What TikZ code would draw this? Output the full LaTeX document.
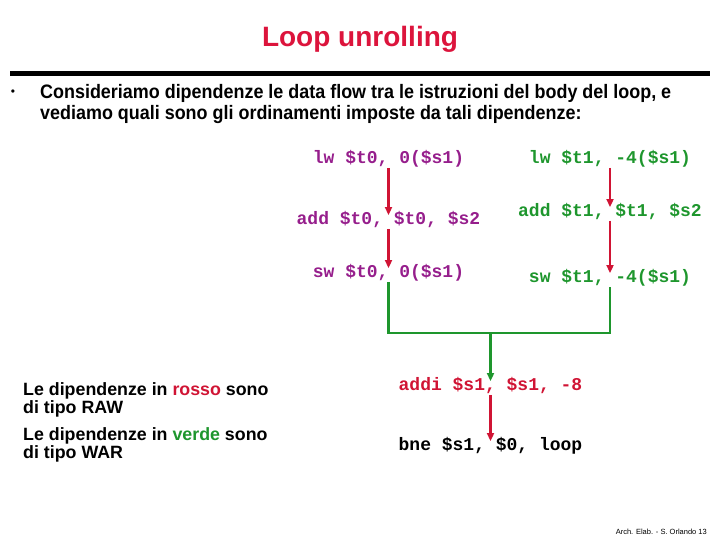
\documentclass[tikz,border=0pt]{standalone}
\usepackage{fontspec}
\setmainfont{Liberation Sans}
\setmonofont{Liberation Mono}
\newfontfamily\narrowfont[FakeStretch=0.92]{Liberation Sans}
\usepackage{xcolor}
\usepackage{tikz}
\usetikzlibrary{arrows.meta, positioning}

\definecolor{titlered}{RGB}{220,20,60}
\definecolor{rawred}{RGB}{208,20,52}
\definecolor{warpurple}{RGB}{150,30,140}
\definecolor{wargreen}{RGB}{30,150,45}

\begin{document}
\begin{tikzpicture}[x=1pt, y=-1pt, >={Triangle[length=8pt,width=7pt]},
  code/.style={font=\ttfamily\bfseries\fontsize{18}{20}\selectfont, inner sep=2pt,
    text height=0.72em, text depth=0.23em},
  rawarrow/.style={->, draw=rawred, fill=rawred, line width=2.5pt},
  wararrow/.style={draw=wargreen, line width=2.5pt},
  legend/.style={font=\bfseries\fontsize{17.8}{18.5}\selectfont, align=left, anchor=north west, inner sep=0pt}]
  \useasboundingbox (0,0) rectangle (720,540);
  % titolo e testo
  \node[font=\bfseries\fontsize{28}{30}\selectfont, text=titlered] (title) at (360,39) {Loop unrolling};
  \fill (10,71) rectangle (710,76);
  \node[font=\fontsize{12}{12}\selectfont] (bullet) at (13,93) {•};
  \node[font=\narrowfont\bfseries\fontsize{19.5}{21.5}\selectfont, align=left, anchor=north west, inner sep=0pt] (intro) at (40,84)
    {Consideriamo dipendenze le data flow tra le istruzioni del body del loop, e\\
     vediamo quali sono gli ordinamenti imposte da tali dipendenze:};
  % prima iterazione
  \node[code, text=warpurple] (lw0) at (388.5,161) {lw \$t0, 0(\$s1)};
  \node[code, text=warpurple] (add0) at (388.5,222) {add \$t0, \$t0, \$s2};
  \node[code, text=warpurple] (sw0) at (388.5,275) {sw \$t0, 0(\$s1)};
  % seconda iterazione
  \node[code, text=wargreen] (lw1) at (610,161) {lw \$t1, -4(\$s1)};
  \node[code, text=wargreen] (add1) at (610,214) {add \$t1, \$t1, \$s2};
  \node[code, text=wargreen] (sw1) at (610,280) {sw \$t1, -4(\$s1)};
  % fine loop
  \node[code, text=rawred] (addi) at (490.5,388) {addi \$s1, \$s1, -8};
  \node[code] (bne) at (490.5,448) {bne \$s1, \$0, loop};
  \coordinate (join) at (490.5,333);
  % dipendenze RAW
  \draw[rawarrow] (lw0) -- (add0);
  \draw[rawarrow] (add0) -- (sw0);
  \draw[rawarrow] (lw1) -- (add1);
  \draw[rawarrow] (add1) -- (sw1);
  \draw[rawarrow] (addi) -- (bne);
  % dipendenze WAR
  \draw[wararrow] (sw0.south) |- (join) -| (sw1.south);
  \draw[wararrow, ->, fill=wargreen] (join) -- (addi);
  % legenda
  \node[legend] (legraw) at (23,382) {Le dipendenze in \textcolor{rawred}{rosso} sono\\di tipo RAW};
  \node[legend] (legwar) at (23,427) {Le dipendenze in \textcolor{wargreen}{verde} sono\\di tipo WAR};
  \node[font=\fontsize{7.5}{8}\selectfont, anchor=east, inner sep=0pt] (footer) at (707,532) {Arch. Elab. - S. Orlando 13};
\end{tikzpicture}
\end{document}
